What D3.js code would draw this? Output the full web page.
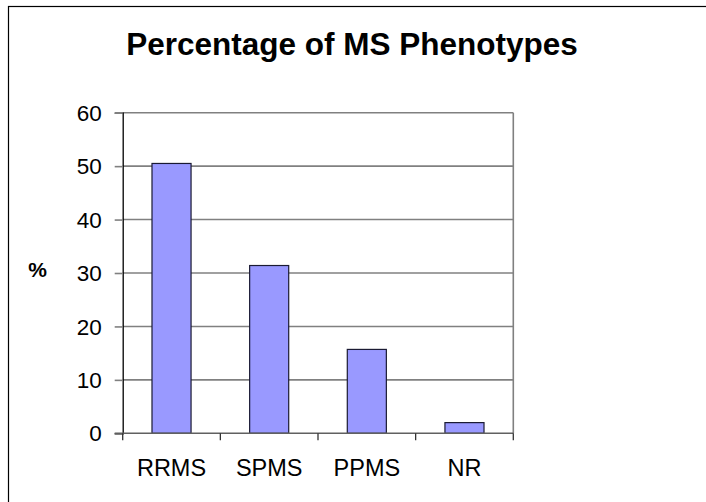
<!DOCTYPE html>
<html>
<head>
<meta charset="utf-8">
<script src="https://cdn.jsdelivr.net/npm/d3@7"></script>
<style>
  body { margin: 0; background: #fff; }
  svg text { font-family: "Liberation Sans", Arial, sans-serif; fill: #000; }
</style>
</head>
<body>
<div id="chart"></div>
<script>
// données
var categories = ["RRMS", "SPMS", "PPMS", "NR"];
var values = [50.5, 31.4, 15.7, 2.0];
var yTicks = [0, 10, 20, 30, 40, 50, 60];

var FONT = "'Liberation Sans', Arial, sans-serif";
var W = 706, H = 502;
var margin = { top: 112.7, right: 192.7, bottom: 68.7, left: 122.7 },
    width = W - margin.left - margin.right,
    height = H - margin.top - margin.bottom;

var svg = d3.select("#chart")
            .append("svg")
            .attr("width", W)
            .attr("height", H);

// cadre extérieur
svg.append("rect")
   .attr("x", 8.5).attr("y", 6.5)
   .attr("width", 720).attr("height", 520)
   .attr("fill", "none")
   .attr("stroke", "#000")
   .attr("stroke-width", 1.2);

svg.append("text")
   .attr("x", 352)
   .attr("y", 55)
   .style("text-anchor", "middle")
   .style("font-size", "31.5px")
   .style("font-weight", "bold")
   .style("font-family", FONT)
   .text("Percentage of MS Phenotypes");

var g = svg.append("g")
           .attr("transform", "translate(" + margin.left + "," + margin.top + ")");

var x = d3.scaleBand()
          .domain(categories)
          .range([0, width])
          .paddingInner(0.6)
          .paddingOuter(0.3);

var xc = d3.scaleBand().domain(categories).range([0, width]);

var y = d3.scaleLinear()
          .domain([0, 60])
          .range([height, 0]);

// grille
g.selectAll(".grid")
 .data(yTicks.filter(function(d) { return d > 0; }))
 .enter().append("line")
 .attr("class", "grid")
 .attr("x1", 0).attr("x2", width)
 .attr("y1", function(d) { return y(d); })
 .attr("y2", function(d) { return y(d); })
 .attr("stroke", "#808080")
 .attr("stroke-width", 1.6);

// bord droit
g.append("line")
 .attr("x1", width).attr("x2", width)
 .attr("y1", 0).attr("y2", height)
 .attr("stroke", "#808080")
 .attr("stroke-width", 1.6);

// barres
g.selectAll(".bar")
 .data(values)
 .enter().append("rect")
 .attr("class", "bar")
 .attr("x", function(d, i) { return x(categories[i]); })
 .attr("width", x.bandwidth())
 .attr("y", function(d) { return y(d); })
 .attr("height", function(d) { return height - y(d); })
 .attr("fill", "#9999ff")
 .attr("stroke", "#1a1a33")
 .attr("stroke-width", 1.2);

// axe y
var yAxis = g.append("g")
  .call(d3.axisLeft(y).tickValues(yTicks).tickSize(8).tickPadding(13));
yAxis.select(".domain").attr("stroke", "#000").attr("stroke-width", 1.3);
yAxis.selectAll(".tick line").attr("stroke", "#808080").attr("stroke-width", 1.6);
yAxis.selectAll(".tick text")
     .style("font-size", "22.5px")
     .style("font-family", FONT)
     .attr("dy", "0.34em");

// axe x
var xAxis = g.append("g")
  .attr("transform", "translate(0," + height + ")")
  .call(d3.axisBottom(xc).tickSize(0).tickPadding(26));
xAxis.select(".domain").remove();
xAxis.selectAll(".tick text")
     .style("font-size", "23.5px")
     .style("font-family", FONT);

g.append("line")
 .attr("x1", -8).attr("x2", width)
 .attr("y1", height).attr("y2", height)
 .attr("stroke", "#606060")
 .attr("stroke-width", 1.6);

// graduations des catégories
var bounds = [0].concat(categories.map(function(c) { return xc(c) + xc.bandwidth(); }));
g.selectAll(".xtick")
 .data(bounds)
 .enter().append("line")
 .attr("class", "xtick")
 .attr("x1", function(d) { return d; })
 .attr("x2", function(d) { return d; })
 .attr("y1", height)
 .attr("y2", height + 7)
 .attr("stroke", "#333")
 .attr("stroke-width", 1.3);

// titre de l'axe y
svg.append("text")
   .attr("x", 37.5)
   .attr("y", 277)
   .style("text-anchor", "middle")
   .style("font-size", "21px")
   .style("font-weight", "bold")
   .style("font-family", FONT)
   .text("%");
</script>
</body>
</html>
